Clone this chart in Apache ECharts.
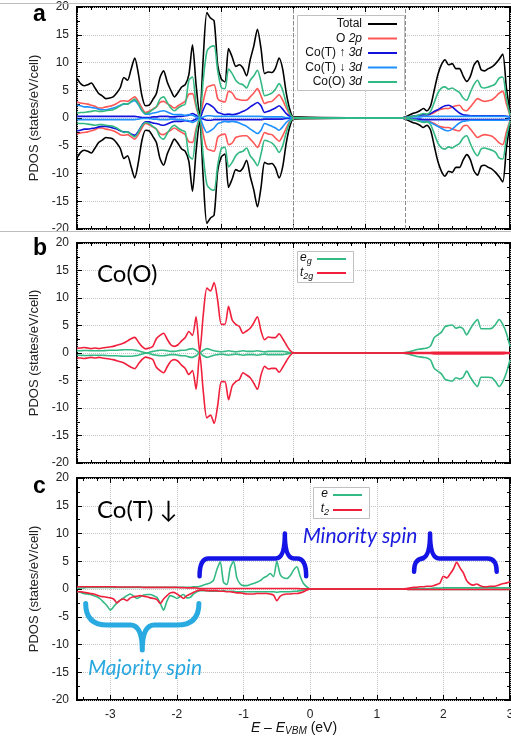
<!DOCTYPE html>
<html><head><meta charset="utf-8">
<script src="https://cdn.jsdelivr.net/npm/echarts@6/dist/echarts.min.js"></script>
<style>html,body{margin:0;padding:0;background:#fff}#c{width:511px;height:747px}</style>
</head><body><div id="c"></div>
<script>
// ---------- DATA ----------
const ENERGY_AB = [-3,-2.95,-2.9,-2.85,-2.8,-2.75,-2.7,-2.65,-2.6,-2.55,
 -2.5,-2.45,-2.4,-2.35,-2.3,-2.25,-2.2,-2.15,-2.1,-2.05,
 -2,-1.95,-1.9,-1.85,-1.8,-1.75,-1.7,-1.65,-1.6,-1.55,
 -1.5,-1.45,-1.4,-1.35,-1.3,-1.25,-1.2,-1.15,-1.1,-1.05,
 -1,-0.95,-0.9,-0.85,-0.8,-0.75,-0.7,-0.65,-0.6,-0.55,
 -0.5,-0.45,-0.4,-0.35,-0.3,-0.25,-0.2,-0.15,-0.1,-0.05,
 0,
 1.5,1.55,1.6,1.65,1.7,1.75,1.8,1.85,1.9,1.95,
 2,2.05,2.1,2.15,2.2,2.25,2.3,2.35,2.4,2.45,
 2.5,2.55,2.6,2.65,2.7,2.75,2.8,2.85,2.9,2.95,
 3];
const ENERGY_C = [-3.5,-3.45,-3.4,-3.35,-3.3,-3.25,-3.2,-3.15,-3.1,-3.05,
 -3,-2.95,-2.9,-2.85,-2.8,-2.75,-2.7,-2.65,-2.6,-2.55,
 -2.5,-2.45,-2.4,-2.35,-2.3,-2.25,-2.2,-2.15,-2.1,-2.05,
 -2,-1.95,-1.9,-1.85,-1.8,-1.75,-1.7,-1.65,-1.6,-1.55,
 -1.5,-1.45,-1.4,-1.35,-1.3,-1.25,-1.2,-1.15,-1.1,-1.05,
 -1,-0.95,-0.9,-0.85,-0.8,-0.75,-0.7,-0.65,-0.6,-0.55,
 -0.5,-0.45,-0.4,-0.35,-0.3,-0.25,-0.2,-0.15,-0.1,-0.05,
 0,
 1.4,1.45,
 1.5,1.55,1.6,1.65,1.7,1.75,1.8,1.85,1.9,1.95,
 2,2.05,2.1,2.15,2.2,2.25,2.3,2.35,2.4,2.45,
 2.5,2.55,2.6,2.65,2.7,2.75,2.8,2.85,2.9,2.95,
 3];

// Panel a
const totalUp = [7.2,6.2,5.8,6.0,6.3,5.4,4.4,4.0,3.5,3.6, 3.8,4.5,5.5,7.3,6.8,8.8,10.8,8.0,4.0,2.2, 2.3,3.3,4.4,7.3,8.5,6.5,5.0,3.8,4.6,5.6, 6.0,7.8,13.2,6.0,0.3,11.0,19.0,18.0,17.5,9.5, 7.0,6.5,12.5,11.0,9.3,9.6,9.0,7.6,10.5,13.0, 16.0,12.5,8.0,8.3,8.2,9.0,10.8,8.8,4.5,1.5, 0.2,
 0.0,0.2,0.5,0.8,1.0,1.3,1.7,1.3,2.2,5.0, 7.8,9.6,10.5,9.6,9.8,8.9,8.9,7.6,6.6,7.5, 9.5,10.3,8.7,8.5,8.9,9.2,9.8,10.6,11.5,5.5, 1.0];
const totalDn = [-7.2,-6.2,-5.8,-6.0,-6.3,-5.4,-4.4,-4.0,-3.5,-3.6, -3.8,-4.5,-5.5,-7.3,-6.8,-8.8,-10.8,-8.0,-4.0,-2.2, -2.3,-3.3,-4.4,-7.3,-8.5,-6.5,-5.0,-3.8,-4.6,-5.6, -6.0,-7.8,-13.2,-6.0,-0.3,-11.0,-19.0,-18.0,-17.5,-9.5, -7.0,-6.5,-12.5,-11.0,-9.3,-9.6,-9.0,-7.6,-10.5,-13.0, -16.0,-12.5,-8.0,-8.3,-8.2,-9.0,-10.8,-8.8,-4.5,-1.5, -0.2,
 0.0,-0.2,-0.5,-0.8,-1.0,-1.3,-1.7,-1.3,-2.2,-5.0, -7.8,-9.6,-10.5,-9.6,-9.8,-8.9,-8.9,-7.6,-6.6,-7.5, -9.5,-10.3,-8.7,-8.5,-8.9,-9.2,-9.8,-10.6,-11.5,-5.5, -1.0];
const o2pUp = [2.9,2.7,2.6,2.5,2.3,2.1,1.8,1.8,2.0,2.1, 2.3,2.6,3.0,3.1,3.0,3.4,3.8,3.0,1.8,1.0, 1.2,1.6,2.0,2.8,3.0,2.6,2.2,1.8,2.2,2.6, 3.0,4.3,4.4,2.0,0.1,3.0,5.5,5.8,6.0,3.5, 3.0,2.9,4.8,4.5,3.5,3.3,3.2,3.2,3.8,4.5, 5.3,4.0,2.6,2.9,3.0,3.6,4.2,3.2,1.8,0.6, 0.1,
 0.0,0.1,0.2,0.3,0.4,0.5,0.6,0.5,0.7,1.0, 1.4,1.6,1.7,1.7,2.0,2.2,2.3,1.5,1.3,2.0, 2.8,3.5,3.2,3.0,3.1,3.3,3.8,4.5,4.8,2.5, 0.5];
const o2pDn = [-2.9,-2.7,-2.6,-2.5,-2.3,-2.1,-1.8,-1.8,-2.0,-2.1, -2.3,-2.6,-3.0,-3.1,-3.0,-3.4,-3.8,-3.0,-1.8,-1.0, -1.2,-1.6,-2.0,-2.8,-3.0,-2.6,-2.2,-1.8,-2.2,-2.6, -3.0,-4.3,-4.4,-2.0,-0.1,-3.0,-5.5,-5.8,-6.0,-3.5, -3.0,-2.9,-4.8,-4.5,-3.5,-3.3,-3.2,-3.2,-3.8,-4.5, -5.3,-4.0,-2.6,-2.9,-3.0,-3.6,-4.2,-3.2,-1.8,-0.6, -0.1,
 0.0,-0.1,-0.2,-0.3,-0.4,-0.5,-0.6,-0.5,-0.7,-1.0, -1.4,-1.6,-1.7,-1.7,-2.0,-2.2,-2.3,-1.5,-1.3,-2.0, -2.8,-3.5,-3.2,-3.0,-3.1,-3.3,-3.8,-4.5,-4.8,-2.5, -0.5];
const coTupUp = [0.3,0.3,0.3,0.3,0.3,0.3,0.3,0.3,0.3,0.3, 0.3,0.3,0.3,0.3,0.3,0.3,0.3,0.2,0.1,0.1, 0.1,0.2,0.2,0.3,0.3,0.3,0.2,0.2,0.3,0.3, 0.4,0.5,0.8,0.5,0.0,1.5,2.6,2.3,1.8,1.0, 0.8,0.6,0.7,0.6,0.7,0.9,1.2,1.5,2.0,2.4, 2.8,2.2,1.0,1.2,1.5,1.8,2.2,1.6,0.8,0.3, 0.0,
 0.0,0.1,0.2,0.3,0.4,0.5,0.6,0.6,0.8,1.2, 1.5,1.9,2.2,2.3,2.0,1.4,0.9,0.6,0.5,0.4, 0.4,0.4,0.4,0.4,0.4,0.4,0.4,0.4,0.4,0.3, 0.2];
const coTupDn = [-2.3,-2.2,-2.0,-2.0,-1.9,-1.8,-1.6,-1.5,-1.5,-1.6, -1.8,-2.0,-2.3,-2.5,-2.5,-2.9,-3.1,-2.4,-1.3,-0.7, -0.7,-0.9,-1.0,-1.2,-1.3,-1.1,-0.8,-0.6,-0.6,-0.6, -0.5,-0.6,-0.5,-0.2,0.0,-0.2,-0.4,-0.4,-0.3,-0.3, -0.3,-0.3,-0.3,-0.3,-0.3,-0.3,-0.3,-0.3,-0.3,-0.3, -0.3,-0.3,-0.2,-0.2,-0.2,-0.2,-0.2,-0.2,-0.1,-0.1, 0.0,
 0.0,-0.1,-0.1,-0.2,-0.2,-0.2,-0.3,-0.3,-0.3,-0.3, -0.3,-0.3,-0.3,-0.3,-0.3,-0.3,-0.3,-0.3,-0.3,-0.3, -0.3,-0.3,-0.3,-0.3,-0.3,-0.3,-0.3,-0.3,-0.3,-0.3, -0.2];
const coTdnUp = [2.3,2.2,2.0,2.0,1.9,1.8,1.6,1.5,1.5,1.6, 1.8,2.0,2.3,2.5,2.5,2.9,3.1,2.4,1.3,0.7, 0.7,0.9,1.0,1.2,1.3,1.1,0.8,0.6,0.6,0.6, 0.5,0.6,0.5,0.2,0.0,0.2,0.4,0.4,0.3,0.3, 0.3,0.3,0.3,0.3,0.3,0.3,0.3,0.3,0.3,0.3, 0.3,0.3,0.2,0.2,0.2,0.2,0.2,0.2,0.1,0.1, 0.0,
 0.0,0.1,0.1,0.2,0.2,0.2,0.3,0.3,0.3,0.3, 0.3,0.3,0.3,0.3,0.3,0.3,0.3,0.3,0.3,0.3, 0.3,0.3,0.3,0.3,0.3,0.3,0.3,0.3,0.3,0.3, 0.2];
const coTdnDn = [-0.3,-0.3,-0.3,-0.3,-0.3,-0.3,-0.3,-0.3,-0.3,-0.3, -0.3,-0.3,-0.3,-0.3,-0.3,-0.3,-0.3,-0.2,-0.1,-0.1, -0.1,-0.2,-0.2,-0.3,-0.3,-0.3,-0.2,-0.2,-0.3,-0.3, -0.4,-0.5,-0.8,-0.5,0.0,-1.5,-2.6,-2.3,-1.8,-1.0, -0.8,-0.6,-0.7,-0.6,-0.7,-0.9,-1.2,-1.5,-2.0,-2.4, -2.8,-2.2,-1.0,-1.2,-1.5,-1.8,-2.2,-1.6,-0.8,-0.3, 0.0,
 0.0,-0.1,-0.2,-0.3,-0.4,-0.5,-0.6,-0.6,-0.8,-1.2, -1.5,-1.9,-2.2,-2.3,-2.0,-1.4,-0.9,-0.6,-0.5,-0.4, -0.4,-0.4,-0.4,-0.4,-0.4,-0.4,-0.4,-0.4,-0.4,-0.3, -0.2];
const coOUp = [0.9,1.0,1.0,1.1,1.2,1.3,1.2,1.2,1.3,1.4, 1.5,1.8,2.2,2.6,2.5,3.0,3.4,2.6,1.4,0.8, 1.0,1.5,2.0,3.4,3.8,2.8,1.8,1.3,1.8,2.2, 2.5,6.8,7.4,2.5,0.1,7.0,12.0,12.8,13.0,8.5, 5.5,5.3,8.8,8.0,6.8,6.2,6.0,5.4,6.8,7.6, 8.6,6.5,4.0,4.2,4.5,5.2,6.2,5.0,2.6,0.8, 0.1,
 0.0,0.1,0.2,0.3,0.4,0.6,0.8,0.7,1.2,2.8, 4.5,5.4,5.6,5.2,5.4,5.0,4.6,3.6,3.2,4.6, 6.0,6.8,5.6,5.4,5.6,5.8,6.2,7.2,7.4,3.5, 0.5];
const coODn = [-0.9,-1.0,-1.0,-1.1,-1.2,-1.3,-1.2,-1.2,-1.3,-1.4, -1.5,-1.8,-2.2,-2.6,-2.5,-3.0,-3.4,-2.6,-1.4,-0.8, -1.0,-1.5,-2.0,-3.4,-3.8,-2.8,-1.8,-1.3,-1.8,-2.2, -2.5,-6.8,-7.4,-2.5,-0.1,-7.0,-12.0,-12.8,-13.0,-8.5, -5.5,-5.3,-8.8,-8.0,-6.8,-6.2,-6.0,-5.4,-6.8,-7.6, -8.6,-6.5,-4.0,-4.2,-4.5,-5.2,-6.2,-5.0,-2.6,-0.8, -0.1,
 0.0,-0.1,-0.2,-0.3,-0.4,-0.6,-0.8,-0.7,-1.2,-2.8, -4.5,-5.4,-5.6,-5.2,-5.4,-5.0,-4.6,-3.6,-3.2,-4.6, -6.0,-6.8,-5.6,-5.4,-5.6,-5.8,-6.2,-7.2,-7.4,-3.5, -0.5];

// Panel b
const egUp = [0.4,0.4,0.45,0.45,0.4,0.4,0.4,0.4,0.45,0.5, 0.5,0.5,0.55,0.6,0.6,0.6,0.5,0.4,0.2,0.05, 0.1,0.3,0.4,0.5,0.5,0.4,0.3,0.3,0.4,0.5, 0.5,0.7,0.8,0.5,0.0,0.5,0.8,0.6,0.4,0.3, 0.2,0.3,0.4,0.3,0.2,0.3,0.4,0.3,0.3,0.3, 0.4,0.3,0.2,0.3,0.3,0.3,0.3,0.3,0.2,0.1, 0.0,
 0.0,0.1,0.2,0.4,0.6,0.7,0.8,0.9,1.3,2.8, 3.3,3.8,4.8,5.0,5.1,4.5,4.7,4.4,3.3,4.4, 5.4,6.1,4.4,4.4,4.4,4.5,5.2,6.1,5.2,3.6, 1.2];
const egDn = [-0.4,-0.4,-0.45,-0.45,-0.4,-0.4,-0.4,-0.4,-0.45,-0.5, -0.5,-0.5,-0.55,-0.6,-0.6,-0.6,-0.5,-0.4,-0.2,-0.05, -0.1,-0.3,-0.4,-0.5,-0.5,-0.4,-0.3,-0.3,-0.4,-0.5, -0.5,-0.7,-0.8,-0.5,0.0,-0.5,-0.8,-0.6,-0.4,-0.3, -0.2,-0.3,-0.4,-0.3,-0.2,-0.3,-0.4,-0.3,-0.3,-0.3, -0.4,-0.3,-0.2,-0.3,-0.3,-0.3,-0.3,-0.3,-0.2,-0.1, 0.0,
 0.0,-0.1,-0.2,-0.4,-0.6,-0.7,-0.8,-0.9,-1.3,-2.8, -3.3,-3.8,-4.8,-5.0,-5.1,-4.5,-4.7,-4.4,-3.3,-4.4, -5.4,-6.1,-4.4,-4.4,-4.4,-4.5,-5.2,-6.1,-5.2,-3.6, -1.2];
const t2gUp = [0.85,0.9,1.0,0.9,0.8,0.9,0.8,0.9,1.0,1.1, 1.2,1.4,1.6,1.8,2.2,2.6,2.85,2.0,1.2,0.75, 0.9,1.2,2.6,3.2,3.6,2.5,1.5,1.2,1.5,2.2, 2.8,3.9,3.2,6.6,0.1,7.0,11.8,11.3,12.8,9.5, 5.2,5.2,8.5,6.0,5.2,4.8,3.6,4.0,4.5,5.5, 6.6,4.0,2.4,2.9,2.8,2.8,3.5,2.6,1.5,0.5, 0.0,
 0.0,0.05,0.1,0.1,0.1,0.1,0.1,0.1,0.1,0.15, 0.15,0.15,0.15,0.15,0.15,0.15,0.15,0.15,0.15,0.15, 0.15,0.15,0.15,0.15,0.15,0.15,0.15,0.15,0.15,0.1, 0.1];
const t2gDn = [-0.85,-0.9,-1.0,-0.9,-0.8,-0.9,-0.8,-0.9,-1.0,-1.1, -1.2,-1.4,-1.6,-1.8,-2.2,-2.6,-2.85,-2.0,-1.2,-0.75, -0.9,-1.2,-2.6,-3.2,-3.6,-2.5,-1.5,-1.2,-1.5,-2.2, -2.8,-3.9,-3.2,-6.6,-0.1,-7.0,-11.8,-11.3,-12.8,-9.5, -5.2,-5.2,-8.5,-6.0,-5.2,-4.8,-3.6,-4.0,-4.5,-5.5, -6.6,-4.0,-2.4,-2.9,-2.8,-2.8,-3.5,-2.6,-1.5,-0.5, 0.0,
 0.0,-0.05,-0.1,-0.1,-0.1,-0.1,-0.1,-0.1,-0.1,-0.15, -0.15,-0.15,-0.15,-0.15,-0.15,-0.15,-0.15,-0.15,-0.15,-0.15, -0.15,-0.15,-0.15,-0.15,-0.15,-0.15,-0.15,-0.15,-0.15,-0.1, -0.1];

// Panel c
const eUpC = [0.1,0.2,0.2,0.3,0.3,0.3,0.3,0.3,0.3,0.3, 0.3,0.3,0.3,0.3,0.3,0.3,0.3,0.3,0.3,0.3, 0.3,0.3,0.3,0.3,0.3,0.3,0.3,0.3,0.3,0.3, 0.3,0.3,0.3,0.3,0.3,0.4,0.4,0.5,0.7,0.9, 1.1,1.6,3.5,4.9,1.2,0.8,3.8,5.0,2.0,0.9, 0.6,0.6,0.8,1.0,1.2,1.5,2.0,2.3,2.8,2.2, 5.0,2.6,2.0,1.9,2.4,3.4,4.0,2.3,1.0,0.4, 0.0,
 0.0,0.05,0.1,0.1,0.1,0.1,0.1,0.1,0.1,0.15, 0.15,0.15,0.2,0.2,0.2,0.2,0.2,0.2,0.2,0.2, 0.2,0.2,0.2,0.2,0.2,0.2,0.2,0.2,0.2,0.2, 0.2,0.2,0.2];
const eDnC = [-0.5,-0.6,-0.8,-0.9,-1.0,-1.2,-1.4,-1.8,-2.4,-3.0, -3.8,-3.2,-2.5,-2.0,-1.6,-1.2,-0.9,-1.3,-1.7,-1.4, -1.1,-1.0,-1.0,-1.2,-1.5,-2.6,-3.8,-2.2,-1.2,-1.4, -1.7,-1.3,-1.0,-1.6,-1.5,-0.9,-0.5,-0.3,-0.3,-0.3, -0.4,-0.4,-0.4,-0.4,-0.3,-0.4,-0.4,-0.4,-0.5,-0.5, -0.5,-0.5,-0.5,-0.5,-0.5,-0.5,-0.5,-0.5,-0.5,-0.5, -0.6,-0.5,-0.5,-0.5,-0.5,-0.4,-0.4,-0.3,-0.2,-0.1, 0.0,
 0.0,-0.05,-0.1,-0.1,-0.1,-0.1,-0.1,-0.1,-0.1,-0.1, -0.1,-0.1,-0.1,-0.1,-0.1,-0.1,-0.1,-0.1,-0.1,-0.1, -0.1,-0.1,-0.1,-0.1,-0.1,-0.1,-0.1,-0.1,-0.1,-0.1, -0.1,-0.1,-0.1];
const t2UpC = [0.4,0.4,0.4,0.4,0.4,0.4,0.4,0.4,0.4,0.4, 0.4,0.4,0.35,0.35,0.35,0.35,0.35,0.35,0.35,0.35, 0.3,0.3,0.3,0.3,0.3,0.3,0.3,0.3,0.3,0.3, 0.3,0.25,0.25,0.2,0.2,0.2,0.15,0.1,0.1,0.1, 0.1,0.1,0.1,0.1,0.1,0.1,0.1,0.1,0.1,0.1, 0.1,0.1,0.1,0.1,0.1,0.1,0.1,0.1,0.1,0.1, 0.1,0.1,0.1,0.1,0.1,0.1,0.1,0.05,0.05,0.05, 0.0,
 0.0,0.1,0.2,0.3,0.3,0.4,0.4,0.5,0.5,0.6, 0.8,1.1,2.3,2.0,2.7,3.6,4.8,3.8,2.9,1.5, 0.9,0.7,0.9,0.6,0.4,0.4,0.5,0.5,0.6,0.8, 1.0,1.1,1.3];
const t2DnC = [-0.5,-0.5,-0.6,-0.7,-0.8,-0.9,-1.1,-1.3,-1.4,-1.5, -1.6,-1.8,-2.5,-2.0,-1.8,-2.1,-1.6,-1.4,-1.3,-1.2, -1.3,-1.4,-1.6,-1.7,-1.9,-2.6,-1.8,-1.2,-0.7,-0.6, -0.9,-1.3,-1.7,-1.2,-0.9,-0.6,-0.3,-0.2,-0.2,-0.3, -0.3,-0.3,-0.3,-0.4,-0.4,-0.5,-0.5,-0.6,-0.7,-0.7, -0.8,-0.9,-0.9,-0.9,-0.8,-0.8,-0.8,-0.8,-0.9,-1.1, -2.1,-1.3,-1.0,-0.9,-0.9,-0.8,-0.8,-0.7,-0.5,-0.2, 0.0,
 0.0,-0.05,-0.1,-0.1,-0.1,-0.1,-0.1,-0.1,-0.1,-0.1, -0.1,-0.1,-0.1,-0.1,-0.1,-0.1,-0.1,-0.1,-0.1,-0.1, -0.1,-0.1,-0.1,-0.1,-0.1,-0.1,-0.1,-0.1,-0.1,-0.1, -0.1,-0.1,-0.1];

const GAP_EDGES_A = [0, 1.55];
const X_TICKS_C = [-3, -2, -1, 0, 1, 2, 3];
// Braces: [x left end, x tip, x right end, y ends, y bar, y tip] (data units, panel c)
const BRACES = [
  [-3.37, -2.52, -1.67, -2.6, -6.5, -11.0],
  [-1.66, -0.38, -0.06, 2.3, 5.5, 10.0],
  [1.56, 1.80, 2.80, 3.1, 5.5, 10.0]
];

// ---------- STYLE ----------
const FONT = '"Liberation Sans", Arial, sans-serif';
const CAL = 'Lato, "Open Sans", sans-serif';
const C_TOTAL = '#000000', C_O2P = '#ff5656', C_TUP = '#1212dc', C_TDN = '#1e90ff', C_COO = '#33b983';
const C_RED = '#f0203c', C_GRN = '#33b983';
const BRACE_STYLE = [
  {color: '#29abe2', width: 5, rEnd: 22, rTip: 12},
  {color: '#1414e6', width: 4.5, rEnd: 9, rTip: 9},
  {color: '#1414e6', width: 4.5, rEnd: 9, rTip: 9}
];
const xMinorC = [];
for (let k = -34; k <= 30; k += 2) { if (k % 10 !== 0) xMinorC.push(k / 10); }

const grids = [
  {left: 77, top: 7, width: 433, height: 222},
  {left: 77, top: 243, width: 433, height: 220},
  {left: 77, top: 478, width: 433, height: 222}
].map(g => Object.assign({show: true, borderColor: '#000', borderWidth: 2, backgroundColor: 'transparent', containLabel: false, outerBoundsMode: 'none'}, g));

const dotted = {show: true, lineStyle: {type: 'dotted', color: '#c4c4c4', width: 1}};
const tickStyle = {color: '#000', width: 1};

function xAB(gi, pos, main) {
  return {
    type: 'value', gridIndex: gi, position: pos, min: -3, max: 3, interval: 1,
    axisLine: {show: false, onZero: false},
    axisTick: {show: true, inside: true, length: 5, lineStyle: tickStyle},
    minorTick: {show: true, splitNumber: 5, length: 3, lineStyle: tickStyle},
    axisLabel: {show: false},
    splitLine: main ? dotted : {show: false}
  };
}
function xC(pos, kind) {
  const major = kind === 'major';
  return {
    type: 'value', gridIndex: 2, position: pos, min: -3.5, max: 3,
    axisLine: {show: false, onZero: false},
    axisTick: {show: true, inside: true, length: major ? 5 : 3, customValues: major ? X_TICKS_C : xMinorC, lineStyle: tickStyle},
    axisLabel: (major && pos === 'bottom') ? {show: true, customValues: X_TICKS_C, fontSize: 12, fontFamily: FONT, color: '#222', margin: 9} : {show: false},
    splitLine: (major && pos === 'bottom') ? dotted : {show: false}
  };
}
function yAx(gi, pos) {
  const left = pos === 'left';
  return {
    type: 'value', gridIndex: gi, position: pos, min: -20, max: 20, interval: 5,
    axisLine: {show: false, onZero: false},
    axisTick: {show: true, inside: true, length: 5, lineStyle: tickStyle},
    minorTick: {show: true, splitNumber: 2, length: 3, lineStyle: tickStyle},
    axisLabel: left ? {show: true, fontSize: 12, fontFamily: FONT, color: '#222', margin: 8} : {show: false},
    splitLine: left ? dotted : {show: false},
    name: left ? 'PDOS (states/eV/cell)' : '',
    nameLocation: 'middle', nameGap: 33,
    nameTextStyle: {fontSize: 13, fontFamily: FONT, color: '#222'}
  };
}

const X_MAIN = [0, 2, 4], Y_MAIN = [0, 2, 4];
function mk(xs, ys, color, p, extra) {
  return Object.assign({
    type: 'line', xAxisIndex: X_MAIN[p], yAxisIndex: Y_MAIN[p],
    data: xs.map((x, i) => [x, ys[i]]),
    symbol: 'none', showSymbol: false, smooth: 0.25, silent: true,
    lineStyle: {color, width: 1.6}, itemStyle: {color}, z: 3
  }, extra || {});
}

const series = [
  mk(ENERGY_AB, totalUp, C_TOTAL, 0, {markLine: {silent: true, symbol: ['none', 'none'], label: {show: false},
      lineStyle: {type: 'dashed', color: '#8a8a8a', width: 1}, data: GAP_EDGES_A.map(v => ({xAxis: v}))}}),
  mk(ENERGY_AB, totalDn, C_TOTAL, 0),
  mk(ENERGY_AB, o2pUp, C_O2P, 0), mk(ENERGY_AB, o2pDn, C_O2P, 0),
  mk(ENERGY_AB, coTupUp, C_TUP, 0), mk(ENERGY_AB, coTupDn, C_TUP, 0),
  mk(ENERGY_AB, coTdnUp, C_TDN, 0), mk(ENERGY_AB, coTdnDn, C_TDN, 0),
  mk(ENERGY_AB, coOUp, C_COO, 0), mk(ENERGY_AB, coODn, C_COO, 0),
  mk(ENERGY_AB, egUp, C_GRN, 1), mk(ENERGY_AB, egDn, C_GRN, 1),
  mk(ENERGY_AB, t2gUp, C_RED, 1), mk(ENERGY_AB, t2gDn, C_RED, 1),
  mk(ENERGY_C, eUpC, C_GRN, 2), mk(ENERGY_C, eDnC, C_GRN, 2),
  mk(ENERGY_C, t2UpC, C_RED, 2), mk(ENERGY_C, t2DnC, C_RED, 2),
  {
    type: 'custom', xAxisIndex: 4, yAxisIndex: 4, silent: true, z: 10, clip: false,
    data: BRACES,
    renderItem: function (params, api) {
      const st = BRACE_STYLE[params.dataIndex];
      const L = api.coord([api.value(0), api.value(3)]);
      const T = api.coord([api.value(1), api.value(5)]);
      const R = api.coord([api.value(2), api.value(3)]);
      const yb = api.coord([api.value(1), api.value(4)])[1];
      const rE = st.rEnd, rT = st.rTip;
      const d = 'M' + L[0] + ',' + L[1] +
        ' Q' + L[0] + ',' + yb + ' ' + (L[0] + rE) + ',' + yb +
        ' L' + (T[0] - rT) + ',' + yb +
        ' Q' + T[0] + ',' + yb + ' ' + T[0] + ',' + T[1] +
        ' Q' + T[0] + ',' + yb + ' ' + (T[0] + rT) + ',' + yb +
        ' L' + (R[0] - rE) + ',' + yb +
        ' Q' + R[0] + ',' + yb + ' ' + R[0] + ',' + R[1];
      return {type: 'path', shape: {pathData: d}, style: {fill: 'none', stroke: st.color, lineWidth: st.width, lineCap: 'round', lineJoin: 'round'}};
    }
  }
];

// ---------- GRAPHIC ----------
function txt(x, y, text, font, fill, align, rich) {
  const s = {x, y, text, font, fill: fill || '#000', textAlign: align || 'left', textVerticalAlign: 'middle'};
  if (rich) s.rich = rich;
  return {type: 'text', silent: true, z: 20, style: s};
}
function hline(x1, x2, y, color, w) {
  return {type: 'line', silent: true, z: 20, shape: {x1, y1: y, x2, y2: y}, style: {stroke: color, lineWidth: w}};
}
function box(x, y, w, h) {
  return {type: 'rect', silent: true, z: 19, shape: {x, y, width: w, height: h}, style: {fill: '#fff', stroke: '#c0c0c0', lineWidth: 1}};
}
const RICH12 = {
  i: {fontStyle: 'italic', fontSize: 12, fontFamily: FONT, fill: '#111', color: '#111'},
  n: {fontSize: 12, fontFamily: FONT, fill: '#111', color: '#111'},
  s: {fontStyle: 'italic', fontSize: 9, fontFamily: FONT, fill: '#111', color: '#111', padding: [7, 0, 0, 0]}
};
const F12 = '12px ' + FONT;

const graphic = [
  hline(0, 511, 3.5, '#bdbdbd', 1),
  hline(0, 511, 231.5, '#bdbdbd', 1),
  txt(33, 15, 'a', 'bold 23px Arial, "Liberation Sans", sans-serif'),
  txt(33, 249, 'b', 'bold 23px Arial, "Liberation Sans", sans-serif'),
  txt(33, 487, 'c', 'bold 23px Arial, "Liberation Sans", sans-serif'),
  txt(97, 274, 'Co(O)', '24px ' + CAL),
  txt(97, 510, 'Co(T) \u2193', '24px ' + CAL),
  // legend a
  box(297.5, 15.5, 107, 75),
  txt(362, 24, '{n|Total}', F12, '#111', 'right', RICH12),
  txt(362, 38.5, '{n|O }{i|2p}', F12, '#111', 'right', RICH12),
  txt(362, 53, '{n|Co(T) \u2191 }{i|3d}', F12, '#111', 'right', RICH12),
  txt(362, 67.5, '{n|Co(T) \u2193 }{i|3d}', F12, '#111', 'right', RICH12),
  txt(362, 82, '{n|Co(O) }{i|3d}', F12, '#111', 'right', RICH12),
  hline(368, 397, 24, C_TOTAL, 2),
  hline(368, 397, 38.5, C_O2P, 2),
  hline(368, 397, 53, C_TUP, 2),
  hline(368, 397, 67.5, C_TDN, 2),
  hline(368, 397, 82, C_COO, 2),
  // legend b
  box(297.5, 251.5, 56, 31),
  txt(300, 258, '{i|e}{s|g}', F12, '#111', 'left', RICH12),
  txt(300, 273, '{i|t}{s|2g}', F12, '#111', 'left', RICH12),
  hline(317, 346, 259, C_GRN, 2),
  hline(317, 346, 273, C_RED, 2),
  // legend c
  box(313.5, 487.5, 56, 31),
  txt(328, 494, '{i|e}', F12, '#111', 'right', RICH12),
  txt(329, 509, '{i|t}{s|2}', F12, '#111', 'right', RICH12),
  hline(333, 362, 495, C_GRN, 2),
  hline(333, 362, 510, C_RED, 2),
  // annotations
  txt(360, 536, 'Minority spin', 'italic 21px ' + CAL, '#1a1adf', 'center'),
  txt(145, 668, 'Majority spin', 'italic 21px ' + CAL, '#29a8e0', 'center'),
  // x axis name
  txt(294, 728, '{b|E} {n|\u2013 }{b|E}{v|VBM}{n| (eV)}', '14px ' + FONT, '#111', 'center', {
    b: {fontStyle: 'italic', fontSize: 14, fontFamily: FONT, fill: '#111', color: '#111'},
    n: {fontSize: 14, fontFamily: FONT, fill: '#111', color: '#111'},
    v: {fontStyle: 'italic', fontSize: 10, fontFamily: FONT, fill: '#111', color: '#111', padding: [7, 0, 0, 0]}
  })
];

const option = {
  animation: false,
  backgroundColor: '#fff',
  grid: grids,
  xAxis: [xAB(0, 'bottom', true), xAB(0, 'top', false), xAB(1, 'bottom', true), xAB(1, 'top', false),
          xC('bottom', 'major'), xC('bottom', 'minor'), xC('top', 'major'), xC('top', 'minor')],
  yAxis: [yAx(0, 'left'), yAx(0, 'right'), yAx(1, 'left'), yAx(1, 'right'), yAx(2, 'left'), yAx(2, 'right')],
  series,
  graphic
};
const chart = echarts.init(document.getElementById('c'), null, {renderer: 'canvas'});
chart.setOption(option);
</script>
</body></html>
